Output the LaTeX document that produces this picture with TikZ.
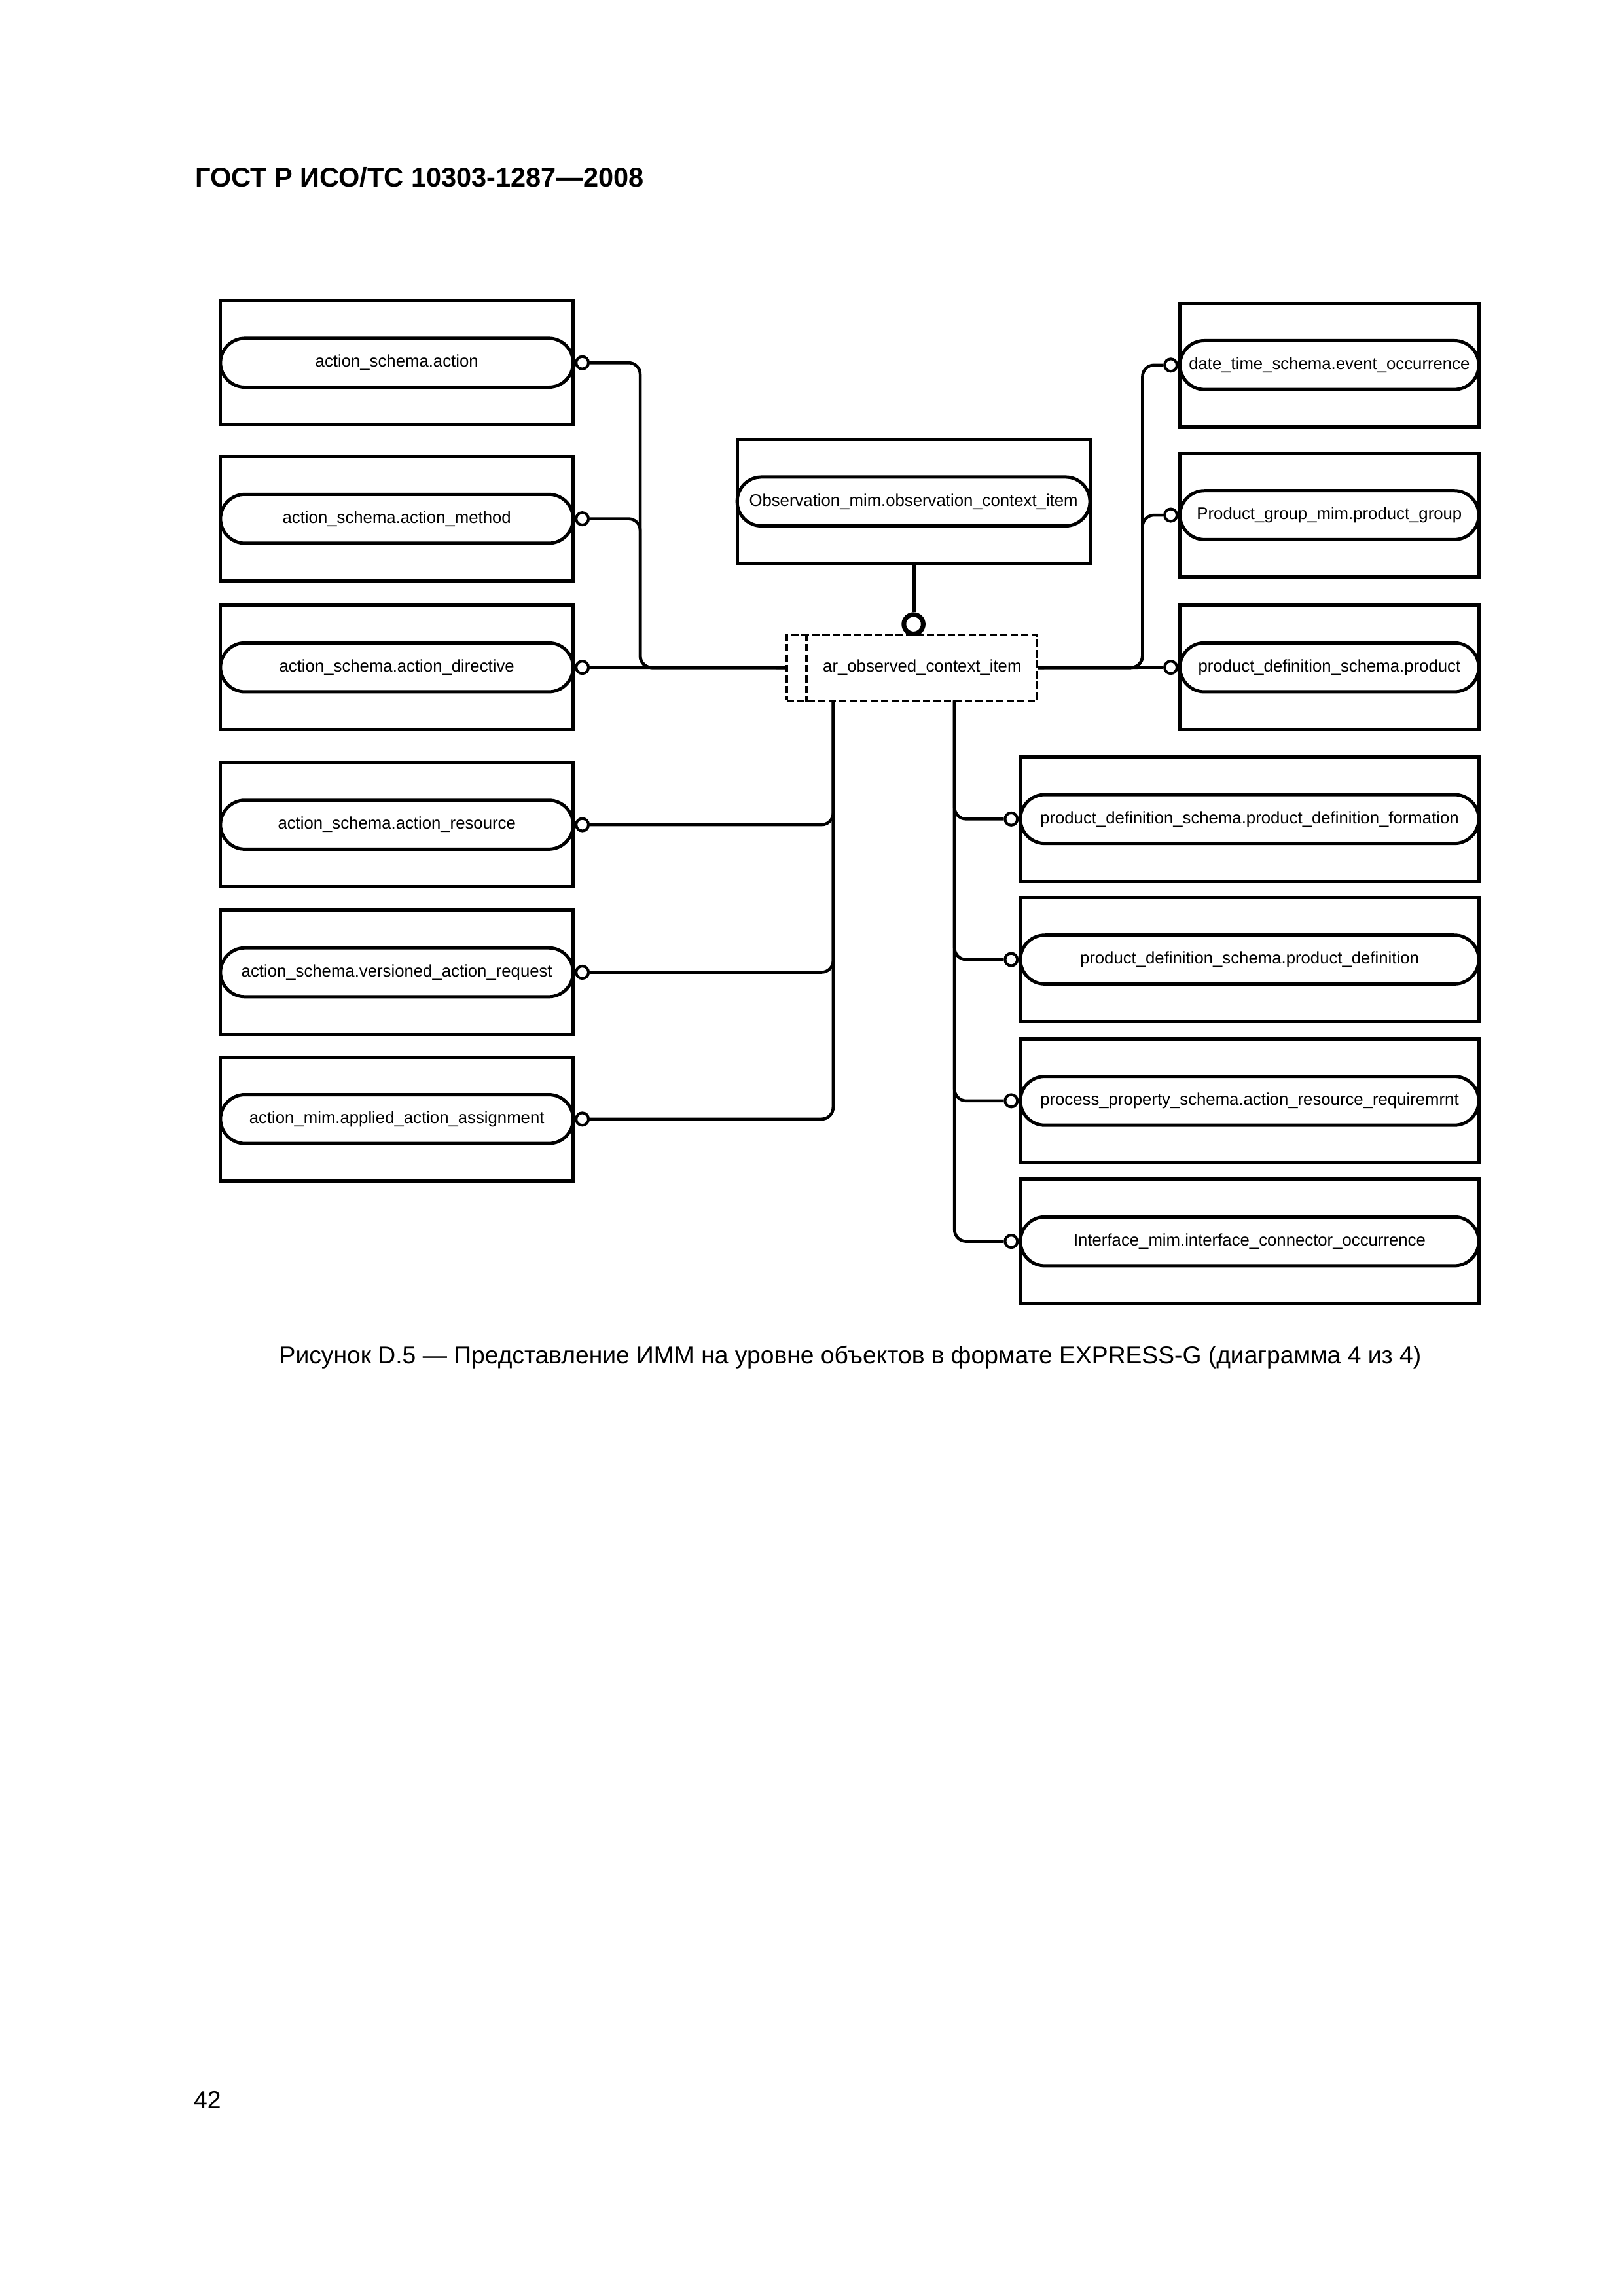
\documentclass[tikz,border=0pt]{standalone}
\usepackage{fontspec}
\setmainfont{Liberation Sans}
\usetikzlibrary{positioning}

\begin{document}
\begin{tikzpicture}[x=0.18935mm, y=-0.18935mm]

\tikzstyle{every node}=[inner sep=0pt, font=\fontsize{6.2}{7.5}\selectfont]
\tikzstyle{box}=[draw, line width=1.2pt, minimum height=16.04mm]
\tikzstyle{oval}=[draw, line width=1.2pt, rounded corners=3.16mm, minimum height=6.32mm]
\tikzstyle{ring}=[circle, draw, fill=white, line width=1pt, minimum size=1.6mm]
\tikzstyle{bigring}=[circle, draw, fill=white, line width=1.7pt, minimum size=2.5mm]
\tikzstyle{conn}=[line width=1.1pt, rounded corners=1.5mm]
\tikzstyle{dashbox}=[draw, line width=0.8pt, dash pattern=on 2.75pt off 1.1pt]

\useasboundingbox (0,0) rectangle (1109.05,1568.5);

\node[anchor=base west, font=\bfseries\fontsize{10}{12}\selectfont] (title) at (133,127.5) {ГОСТ Р ИСО/ТС 10303-1287—2008};

% left column
\path (271.05,247.8) node[box, minimum width=45.61mm] (l1b) {} node[oval, minimum width=45.61mm] (l1) {action\_schema.action};
\path (271.05,354.4) node[box, minimum width=45.61mm] (l2b) {} node[oval, minimum width=45.61mm] (l2) {action\_schema.action\_method};
\path (271.05,455.9) node[box, minimum width=45.61mm] (l3b) {} node[oval, minimum width=45.61mm] (l3) {action\_schema.action\_directive};
\path (271.05,563.4) node[box, minimum width=45.61mm] (l4b) {} node[oval, minimum width=45.61mm] (l4) {action\_schema.action\_resource};
\path (271.05,664.2) node[box, minimum width=45.61mm] (l5b) {} node[oval, minimum width=45.61mm] (l5) {action\_schema.versioned\_action\_request};
\path (271.05,764.5) node[box, minimum width=45.61mm] (l6b) {} node[oval, minimum width=45.61mm] (l6) {action\_mim.applied\_action\_assignment};

% top
\path (624,342.6) node[box, minimum width=45.63mm] (ob) {} node[oval, minimum width=45.63mm] (o) {Observation\_mim.observation\_context\_item};

% right column
\path (908.05,249.4) node[box, minimum width=38.65mm] (r1b) {} node[oval, minimum width=38.65mm] (r1) {date\_time\_schema.event\_occurrence};
\path (908.05,351.9) node[box, minimum width=38.65mm] (r2b) {} node[oval, minimum width=38.65mm] (r2) {Product\_group\_mim.product\_group};
\path (908.05,455.9) node[box, minimum width=38.65mm] (r3b) {} node[oval, minimum width=38.65mm] (r3) {product\_definition\_schema.product};
\path (853.55,559.5) node[box, minimum width=59.29mm] (r4b) {} node[oval, minimum width=59.29mm] (r4) {product\_definition\_schema.product\_definition\_formation};
\path (853.55,655.5) node[box, minimum width=59.29mm] (r5b) {} node[oval, minimum width=59.29mm] (r5) {product\_definition\_schema.product\_definition};
\path (853.55,752) node[box, minimum width=59.29mm] (r6b) {} node[oval, minimum width=59.29mm] (r6) {process\_property\_schema.action\_resource\_requiremrnt};
\path (853.55,848) node[box, minimum width=59.29mm] (r7b) {} node[oval, minimum width=59.29mm] (r7) {Interface\_mim.interface\_connector\_occurrence};

% select type
\node[dashbox, minimum height=8.54mm, text width=32.34mm, align=center] (ar) at (622.8,456.05) {\hspace*{2.7mm}ar\_observed\_context\_item};
\draw[dashbox] ([xshift=2.69mm]ar.north west) -- ([xshift=2.69mm]ar.south west);

\node[bigring] (k) at (624,426.4) {};
\draw[line width=1.5pt] (ob.south) -- (k.north);

\node[ring, right=0pt of l1] (c1) {};
\node[ring, right=0pt of l2] (c2) {};
\node[ring, right=0pt of l3] (c3) {};
\node[ring, right=0pt of l4] (c4) {};
\node[ring, right=0pt of l5] (c5) {};
\node[ring, right=0pt of l6] (c6) {};
\node[ring, left=0pt of r1] (d1) {};
\node[ring, left=0pt of r2] (d2) {};
\node[ring, left=0pt of r3] (d3) {};
\node[ring, left=0pt of r4] (d4) {};
\node[ring, left=0pt of r5] (d5) {};
\node[ring, left=0pt of r6] (d6) {};
\node[ring, left=0pt of r7] (d7) {};

\coordinate (busL) at (437.3,456.05);
\coordinate (busLL) at (569.1,478.6);
\coordinate (busRL) at (652,478.6);
\coordinate (busR) at (780.4,456.05);

\draw[conn] (c1.east) -| (busL) -- (ar.west);
\draw[conn] (c2.east) -| (busL) -- (ar.west);
\draw[conn] (c3.east) -- (ar.west);
\draw[conn] (c4.east) -| (busLL);
\draw[conn] (c5.east) -| (busLL);
\draw[conn] (c6.east) -| (busLL);
\draw[conn] (d1.west) -| (busR) -- (ar.east);
\draw[conn] (d2.west) -| (busR) -- (ar.east);
\draw[conn] (d3.west) -- (ar.east);
\draw[conn] (d4.west) -| (busRL);
\draw[conn] (d5.west) -| (busRL);
\draw[conn] (d6.west) -| (busRL);
\draw[conn] (d7.west) -| (busRL);

\node[anchor=base, font=\fontsize{8.97}{11}\selectfont] (cap) at (580.8,931.7) {Рисунок D.5 — Представление ИММ на уровне объектов в формате EXPRESS-G (диаграмма 4 из 4)};
\node[anchor=base west, font=\fontsize{9}{11}\selectfont] (page) at (132,1440.5) {42};

\end{tikzpicture}
\end{document}
